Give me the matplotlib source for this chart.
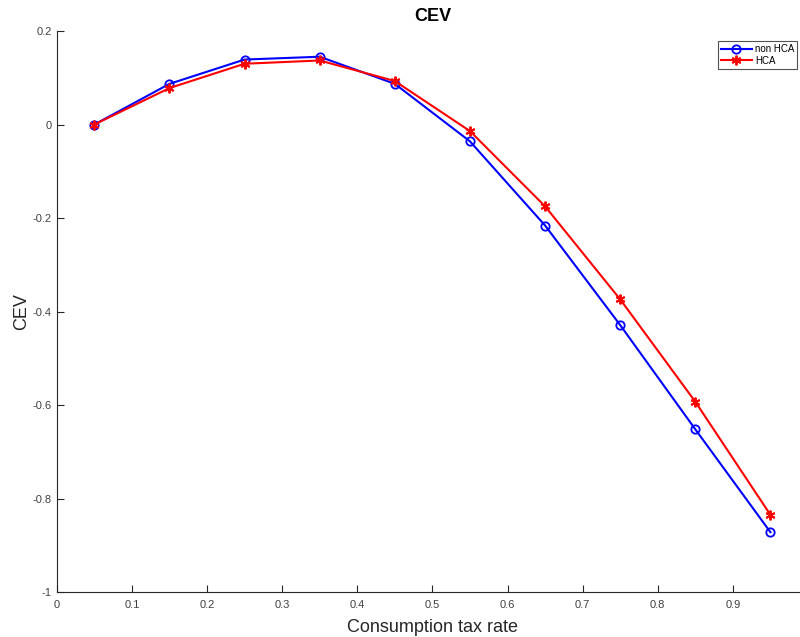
import matplotlib.pyplot as plt

plt.rcParams["font.family"] = ["Liberation Sans", "DejaVu Sans"]

# Consumption tax rates and CEV values for the two model variants
tax_rate = [0.05, 0.15, 0.25, 0.35, 0.45, 0.55, 0.65, 0.75, 0.85, 0.95]
cev_non_hca = [0.0, 0.087, 0.139, 0.145, 0.087, -0.036, -0.216, -0.429, -0.652, -0.872]
cev_hca = [0.0, 0.078, 0.130, 0.137, 0.093, -0.014, -0.175, -0.374, -0.593, -0.835]

x_ticks = [0, 0.1, 0.2, 0.3, 0.4, 0.5, 0.6, 0.7, 0.8, 0.9]
y_ticks = [-1, -0.8, -0.6, -0.4, -0.2, 0, 0.2]

fig = plt.figure(figsize=(8, 6.37), dpi=100)
ax = fig.add_axes([0.071, 0.0706, 0.939, 0.8807])

ax.plot(tax_rate, cev_non_hca, color="blue", linewidth=1.5, marker="o",
        markersize=6, markerfacecolor="none", markeredgewidth=1.3, label="non HCA")
# MATLAB-style asterisk marker (6 arms)
ax.plot(tax_rate, cev_hca, color="red", linewidth=1.5, marker=(6, 2, 0),
        markersize=7, markeredgewidth=1.4, label="HCA")

ax.set_xlim(0, 1)
ax.set_ylim(-1, 0.2)
ax.set_xticks(x_ticks)
ax.set_xticklabels([f"{t:g}" for t in x_ticks])
ax.set_yticks(y_ticks)
ax.set_yticklabels([f"{t:g}" for t in y_ticks])

for side in ["top", "right"]:
    ax.spines[side].set_visible(False)
for side in ["left", "bottom"]:
    ax.spines[side].set_color("#262626")
    ax.spines[side].set_linewidth(0.8)

ax.tick_params(direction="in", length=5, width=0.8, colors="#262626",
               labelsize=8, labelcolor="#404040")
ax.tick_params(axis="x", pad=6)

ax.set_title("CEV", fontsize=13, fontweight="bold", pad=7)
ax.set_xlabel("Consumption tax rate", fontsize=13, color="#262626", labelpad=6)
ax.set_ylabel("CEV", fontsize=13, color="#262626", labelpad=2)

leg = ax.legend(loc="upper right", bbox_to_anchor=(0.992, 0.99), fontsize=7,
                frameon=True, fancybox=False, borderpad=0.3, handlelength=3.2,
                handletextpad=0.3, labelspacing=0.15)
leg.get_frame().set_edgecolor("#262626")
leg.get_frame().set_linewidth(0.8)

fig.savefig("out.png", dpi=100)
